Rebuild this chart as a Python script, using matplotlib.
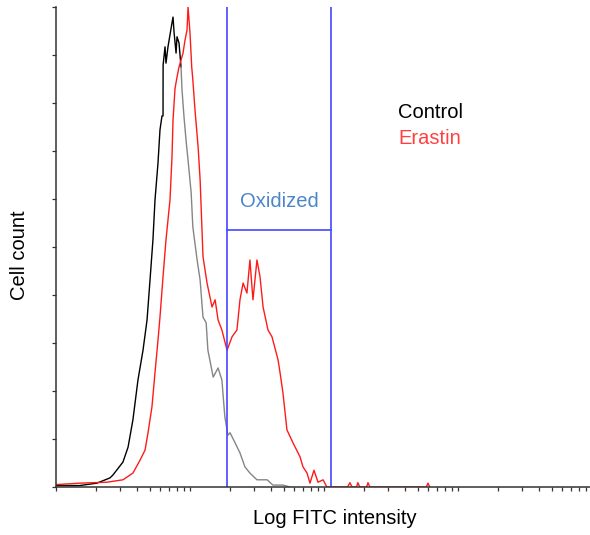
import numpy as np
import matplotlib
matplotlib.use("Agg")
import matplotlib.pyplot as plt
from matplotlib.ticker import LogLocator, NullFormatter, FixedLocator

plt.rcParams['font.family'] = ['Liberation Sans', 'DejaVu Sans']

# Control histogram (FITC intensity, cell count on a 0-100 scale)
control_x = [1.0, 1.5, 2.02, 2.53, 2.66, 3.16, 3.45, 3.75, 4.09, 4.46, 4.78, 5.03,
             5.29, 5.48, 5.77, 5.97, 6.18, 6.29, 6.3, 6.51, 6.62, 6.85, 7.34, 7.47,
             7.6, 7.87, 8.0, 8.28, 8.57, 8.72, 9.02, 9.34, 9.67, 10.2, 10.5, 11.3,
             11.9, 12.5, 13.2, 13.6, 14.9, 16.2, 17.3, 18.2, 19.2, 19.9, 21.7, 23.6,
             25.7, 28.0, 31.6, 37.6, 41.6, 49.4, 55.7]
control_y = [0.3, 0.3, 0.8, 1.9, 2.5, 5.2, 8.3, 14.0, 22.3, 28.5, 34.8, 43.1,
             51.5, 59.8, 67.5, 74.4, 77.3, 77.3, 87.9, 91.7, 88.3, 91.7, 96.7, 97.9,
             94.8, 90.4, 93.8, 92.5, 87.5, 82.7, 77.1, 72.3, 68.1, 61.3, 54.2, 47.3,
             43.1, 35.4, 34.2, 28.5, 22.9, 24.8, 22.3, 14.6, 10.8, 11.3, 9.2, 7.1,
             4.2, 2.9, 1.5, 1.5, 0.4, 0.4, 0.0]

# Erastin histogram
erastin_x = [1.0, 1.51, 2.4, 3.16, 3.75, 4.24, 4.62, 4.86, 5.2, 5.48, 5.77, 5.97,
             6.29, 6.62, 7.09, 7.34, 7.47, 7.73, 8.0, 8.28, 8.87, 9.18, 9.5, 9.67,
             10.0, 10.3, 10.5, 10.9, 11.5, 11.9, 12.5, 13.4, 14.6, 15.4, 16.2, 17.3,
             18.9, 20.6, 22.4, 23.6, 24.9, 26.6, 28.0, 29.5, 31.6, 33.3, 35.1, 38.2,
             40.9, 45.4, 47.0, 49.4, 52.9, 58.7, 66.2, 69.7, 74.7, 78.6, 84.2, 90.2,
             98.4, 105, 150, 156, 162, 175, 179, 185, 208, 213, 220, 580, 597, 615]
erastin_y = [0.5, 0.8, 1.0, 1.5, 2.9, 5.6, 7.7, 11.3, 16.7, 23.8, 30.6, 35.4,
             43.8, 51.5, 59.8, 68.8, 76.5, 83.0, 85.4, 87.5, 90.4, 93.1, 95.2, 100,
             94.6, 87.5, 84.8, 78.5, 70.8, 64.0, 48.0, 42.5, 37.5, 39.0, 34.8, 32.7,
             28.5, 31.3, 32.7, 39.0, 42.5, 40.4, 47.3, 39.0, 47.3, 43.8, 37.5, 32.7,
             31.3, 26.5, 23.8, 19.6, 11.9, 9.2, 6.3, 4.2, 2.9, 0.8, 3.5, 1.0,
             1.5, 0.0, 0.0, 0.9, 0.0, 0.0, 0.9, 0.0, 0.0, 0.9, 0.0, 0.0, 0.8, 0.0]

gate_low, gate_high, gate_level = 18.9, 113.0, 53.5
black_until = 8.6

fig = plt.figure(figsize=(5.9, 5.35), dpi=100)
ax = fig.add_axes([56/590, 48/535, 536/590, 480/535])

cx = np.array(control_x); cy = np.array(control_y)
m = cx <= black_until
ax.plot(cx[m], cy[m], color='black', lw=1.0)
ax.plot(cx[cx >= 8.57], cy[cx >= 8.57], color='#858585', lw=1.0)
ax.plot(erastin_x, erastin_y, color='#ff1a1a', lw=1.0)

gate_color = '#4646ff'
ax.axvline(gate_low, color=gate_color, lw=1.2)
ax.axvline(gate_high, color=gate_color, lw=1.2)
ax.plot([gate_low, gate_high], [gate_level, gate_level], color=gate_color, lw=1.2)

ax.set_xscale('log')
ax.set_xlim(1, 1e4)
ax.set_ylim(0, 100)
ax.xaxis.set_major_locator(LogLocator(base=10, subs=np.arange(1, 10)))
ax.xaxis.set_minor_locator(FixedLocator([]))
ax.xaxis.set_major_formatter(NullFormatter())
ax.yaxis.set_major_locator(FixedLocator(np.arange(0, 101, 10)))
ax.yaxis.set_major_formatter(NullFormatter())
ax.tick_params(axis='both', direction='out', length=3, width=0.9, color='#333333')

for s in ['top', 'right']:
    ax.spines[s].set_visible(False)
for s in ['left', 'bottom']:
    ax.spines[s].set_color('#333333')
    ax.spines[s].set_linewidth(1.1)

ax.text(np.sqrt(gate_low * gate_high), 59.5, 'Oxidized', color='#4a86c8',
        fontsize=14.5, ha='center', va='center')
fig.text(398/590, 1 - 113/535, 'Control', color='black', fontsize=14.5,
         ha='left', va='center')
fig.text(398/590, 1 - 138/535, 'Erastin', color='#ff4040', fontsize=14.5,
         ha='left', va='center')
fig.text(335/590, 1 - 518/535, 'Log FITC intensity', fontsize=14.5,
         ha='center', va='center')
fig.text(20/590, 1 - 255/535, 'Cell count', fontsize=14.5, rotation=90,
         ha='center', va='center')

fig.savefig('out.png', dpi=100)
